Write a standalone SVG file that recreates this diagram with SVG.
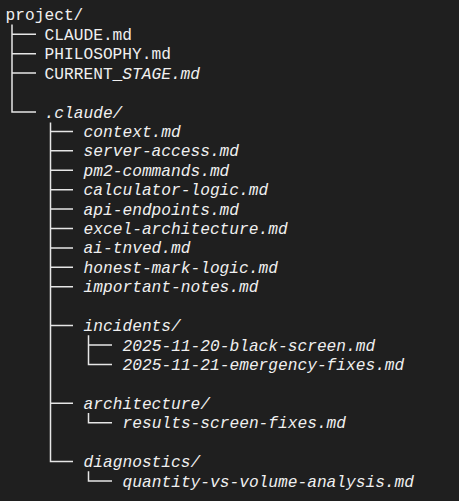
<svg xmlns="http://www.w3.org/2000/svg" width="459" height="501" viewBox="0 0 459 501">
<style>
text{font-family:"Liberation Mono","DejaVu Sans Mono",monospace;font-size:16.2px;fill:#f0f0f0}
.i{font-style:italic}
.c{stroke:#e6e6e6;stroke-width:1.5;fill:none}
</style>
<rect width="459" height="501" fill="#1f1f1f"/>
<g id="connectors" class="c">
<path d="M12 24.6V112H36M12 34.3H36M12 53.7H36M12 73.1H36"/>
<path d="M50.5 122.6V461.5H73M50.5 131.4H73M50.5 150.8H73M50.5 170.2H73M50.5 189.7H73M50.5 209.1H73M50.5 228.5H73M50.5 247.9H73M50.5 267.3H73M50.5 286.8H73M50.5 325.6H73M50.5 403.3H73"/>
<path d="M88.5 335.3V364.4H112M88.5 345H112"/>
<path d="M88.5 413V422.7H112"/>
<path d="M88.5 471.3V481H112"/>
</g>
<g id="project"><text x="5.6" y="20.4">project/</text></g>
<g id="claude-md"><text x="44.6" y="39.8">CLAUDE.md</text></g>
<g id="philosophy"><text x="44.6" y="59.2">PHILOSOPHY.md</text></g>
<g id="current-stage"><text x="44.6" y="78.6">CURRENT_<tspan class="i">STAGE.md</tspan></text></g>
<g id="dot-claude"><text class="i" x="44.6" y="117.5">.claude/</text></g>
<g id="context"><text class="i" x="83.6" y="136.9">context.md</text></g>
<g id="server-access"><text class="i" x="83.6" y="156.3">server-access.md</text></g>
<g id="pm2-commands"><text class="i" x="83.6" y="175.7">pm2-commands.md</text></g>
<g id="calculator-logic"><text class="i" x="83.6" y="195.2">calculator-logic.md</text></g>
<g id="api-endpoints"><text class="i" x="83.6" y="214.6">api-endpoints.md</text></g>
<g id="excel-architecture"><text class="i" x="83.6" y="234">excel-architecture.md</text></g>
<g id="ai-tnved"><text class="i" x="83.6" y="253.4">ai-tnved.md</text></g>
<g id="honest-mark-logic"><text class="i" x="83.6" y="272.8">honest-mark-logic.md</text></g>
<g id="important-notes"><text class="i" x="83.6" y="292.3">important-notes.md</text></g>
<g id="incidents"><text class="i" x="83.6" y="331.1">incidents/</text></g>
<g id="black-screen"><text class="i" x="122.6" y="350.5">2025-11-20-black-screen.md</text></g>
<g id="emergency-fixes"><text class="i" x="122.6" y="369.9">2025-11-21-emergency-fixes.md</text></g>
<g id="architecture"><text class="i" x="83.6" y="408.8">architecture/</text></g>
<g id="results-screen-fixes"><text class="i" x="122.6" y="428.2">results-screen-fixes.md</text></g>
<g id="diagnostics"><text class="i" x="83.6" y="467">diagnostics/</text></g>
<g id="quantity-vs-volume"><text class="i" x="122.6" y="486.5">quantity-vs-volume-analysis.md</text></g>
</svg>
